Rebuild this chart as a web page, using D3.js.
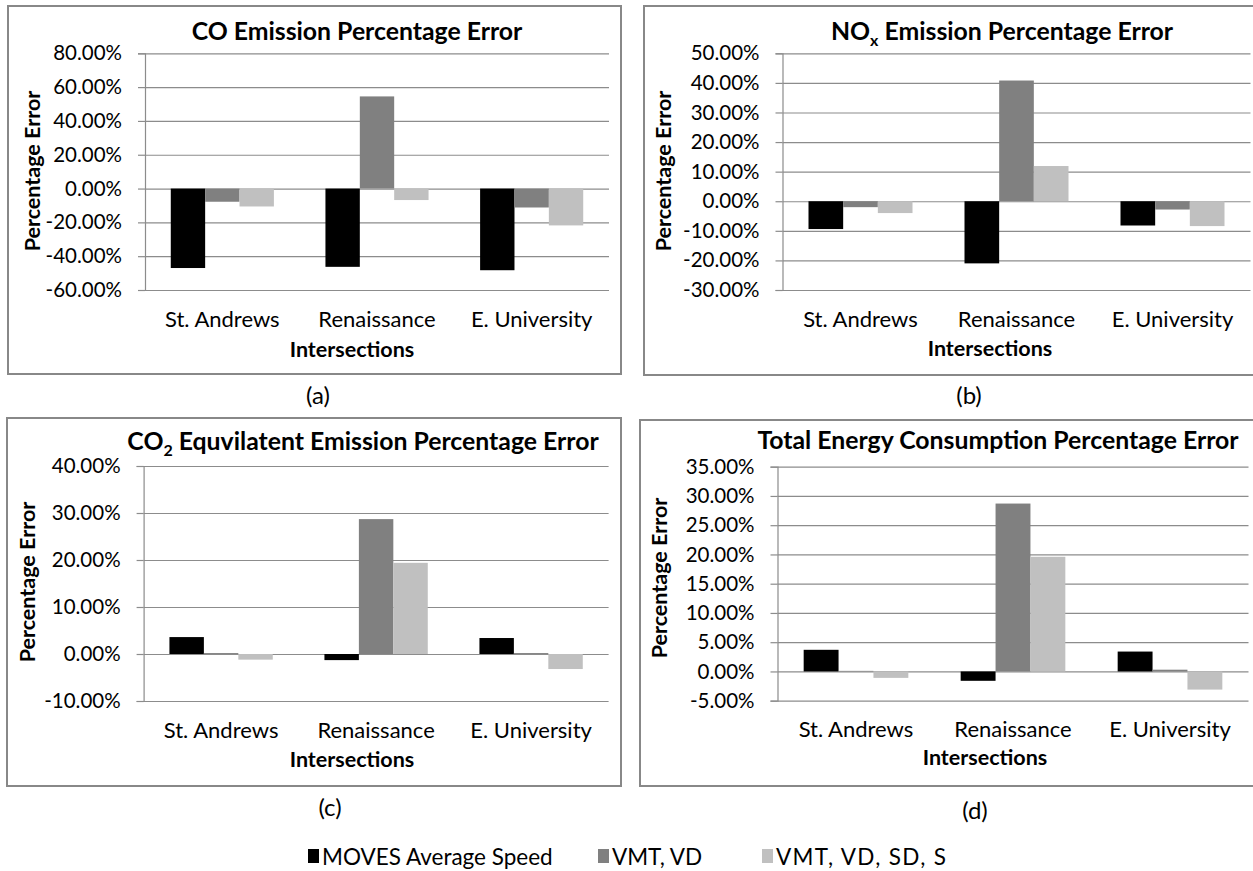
<!DOCTYPE html>
<html>
<head>
<meta charset="utf-8">
<script src="https://cdn.jsdelivr.net/npm/d3@7"></script>
<style>
  html, body { margin: 0; padding: 0; background: #fff; }
  svg { display: block; font-family: Lato, "Open Sans", sans-serif; }
</style>
</head>
<body>
<svg id="chart" width="1253" height="871"></svg>
<script>
// ---------------- DATA ----------------
const categories = ["St. Andrews", "Renaissance", "E. University"];
const seriesNames = ["MOVES Average Speed", "VMT, VD", "VMT, VD, SD, S"];

// (a) CO emission percentage error (%)
const coMoves   = [-47.0, -46.3, -48.3];
const coVmtVd   = [-7.8, 54.5, -11.2];
const coVmtFull = [-10.6, -6.8, -21.8];
const coTicks   = [-60, -40, -20, 0, 20, 40, 60, 80];

// (b) NOx emission percentage error (%)
const noxMoves   = [-9.4, -21.0, -8.2];
const noxVmtVd   = [-2.0, 40.8, -2.8];
const noxVmtFull = [-4.0, 11.9, -8.4];
const noxTicks   = [-30, -20, -10, 0, 10, 20, 30, 40, 50];

// (c) CO2 equivalent emission percentage error (%)
const co2Moves   = [3.6, -1.3, 3.4];
const co2VmtVd   = [0.2, 28.7, 0.2];
const co2VmtFull = [-1.2, 19.4, -3.2];
const co2Ticks   = [-10, 0, 10, 20, 30, 40];

// (d) Total energy consumption percentage error (%)
const enMoves   = [3.7, -1.6, 3.4];
const enVmtVd   = [0.1, 28.7, 0.3];
const enVmtFull = [-1.1, 19.6, -3.1];
const enTicks   = [-5, 0, 5, 10, 15, 20, 25, 30, 35];

const seriesColors = ["#000000", "#808080", "#c0c0c0"];
const yAxisTitle = "Percentage Error";
const xAxisTitle = "Intersections";

// ---------------- LAYOUT ----------------
const panels = [
  { title: [["CO Emission Percentage Error"]], sub: "(a)",
    series: [coMoves, coVmtVd, coVmtFull], ticks: coTicks,
    box: [8, 6, 621, 374], px: [145, 609], py: [53.3, 290],
    titleXY: [357, 40], catY: 327, xtXY: [352, 357], ytXY: [33, 171], subXY: [318, 404] },
  { title: [["NO"], ["x", "sub"], [" Emission Percentage Error"]], sub: "(b)",
    series: [noxMoves, noxVmtVd, noxVmtFull], ticks: noxTicks,
    box: [644, 6, 1262, 375], px: [782.5, 1250.5], py: [53.3, 290],
    titleXY: [1002, 40], catY: 327, xtXY: [990, 356], ytXY: [664, 171], subXY: [969, 404] },
  { title: [["CO"], ["2", "sub"], [" Equvilatent Emission Percentage Error"]], sub: "(c)",
    series: [co2Moves, co2VmtVd, co2VmtFull], ticks: co2Ticks,
    box: [7, 418, 621, 786], px: [143.6, 608.6], py: [466, 701],
    titleXY: [363, 450], catY: 738, xtXY: [352, 767], ytXY: [28, 582], subXY: [330, 816] },
  { title: [["Total Energy Consumption Percentage Error"]], sub: "(d)",
    series: [enMoves, enVmtVd, enVmtFull], ticks: enTicks,
    box: [640, 420, 1262, 786], px: [777.5, 1248.5], py: [466.7, 700.7],
    titleXY: [998, 449], catY: 737, xtXY: [985, 765], ytXY: [660, 578], subXY: [975, 819] }
];

const svg = d3.select("#chart");
svg.append("rect").attr("width", 1253).attr("height", 871).attr("fill", "#fff");

const gridColor = "#8c8c8c";
const textColor = "#000";

panels.forEach(p => {
  const g = svg.append("g");
  g.append("rect")
    .attr("x", p.box[0]).attr("y", p.box[1])
    .attr("width", p.box[2] - p.box[0]).attr("height", p.box[3] - p.box[1])
    .attr("fill", "none").attr("stroke", "#888").attr("stroke-width", 2);

  const y = d3.scaleLinear()
    .domain([d3.min(p.ticks), d3.max(p.ticks)])
    .range([p.py[1], p.py[0]]);
  const x = d3.scaleBand().domain(categories).range(p.px).padding(0);
  const bw = x.bandwidth();
  const inner = d3.scaleBand().domain(d3.range(seriesNames.length))
    .range([bw * 0.75 / 4.5, bw - bw * 0.75 / 4.5]).padding(0);

  const grid = g.append("g").attr("transform", `translate(${p.px[0]},0)`)
    .call(d3.axisLeft(y).tickValues(p.ticks).tickSize(-(p.px[1] - p.px[0])).tickFormat(""));
  grid.select(".domain").remove();
  grid.selectAll("line").attr("stroke", gridColor).attr("stroke-width", 1.2);

  p.series.forEach((vals, si) => {
    g.append("g").selectAll("rect").data(vals).join("rect")
      .attr("x", (d, i) => x(categories[i]) + inner(si))
      .attr("width", inner.bandwidth())
      .attr("y", d => y(Math.max(0, d)))
      .attr("height", d => Math.abs(y(d) - y(0)))
      .attr("fill", seriesColors[si]);
  });

  const ya = g.append("g").attr("transform", `translate(${p.px[0]},0)`)
    .call(d3.axisLeft(y).tickValues(p.ticks).tickSize(7).tickPadding(16)
      .tickFormat(d => d.toFixed(2) + "%"));
  ya.select(".domain").attr("stroke", gridColor).attr("stroke-width", 1.2);
  ya.selectAll("line").attr("stroke", gridColor).attr("stroke-width", 1.2);
  ya.selectAll("text").attr("font-size", 20.5).attr("fill", textColor)
    .attr("font-family", "Lato, sans-serif");

  g.append("g").selectAll("text").data(categories).join("text")
    .attr("x", d => x(d) + bw / 2).attr("y", p.catY)
    .attr("text-anchor", "middle").attr("font-size", 22).attr("fill", textColor)
    .text(d => d);

  const t = g.append("text").attr("x", p.titleXY[0]).attr("y", p.titleXY[1])
    .attr("text-anchor", "middle").attr("font-size", 24.8).attr("font-weight", "bold")
    .attr("fill", textColor);
  p.title.forEach(part => {
    const ts = t.append("tspan").text(part[0]);
    if (part[1] === "sub") {
      ts.attr("font-size", 16).attr("dy", 6);
    } else if (t.selectAll("tspan").size() > 1) {
      ts.attr("dy", -6);
    }
  });

  g.append("text").attr("x", p.xtXY[0]).attr("y", p.xtXY[1])
    .attr("text-anchor", "middle").attr("font-size", 21.5).attr("font-weight", "bold")
    .attr("fill", textColor).text(xAxisTitle);
  g.append("text")
    .attr("transform", `translate(${p.ytXY[0] + 7},${p.ytXY[1]}) rotate(-90)`)
    .attr("text-anchor", "middle").attr("font-size", 21.5).attr("font-weight", "bold")
    .attr("fill", textColor).text(yAxisTitle);

  svg.append("text").attr("x", p.subXY[0]).attr("y", p.subXY[1])
    .attr("text-anchor", "middle").attr("font-size", 24).attr("fill", textColor)
    .text(p.sub);
});

// legend
const legendX = [308, 598, 762];
const lg = svg.append("g");
seriesNames.forEach((name, i) => {
  lg.append("rect").attr("x", legendX[i]).attr("y", 849).attr("width", 11).attr("height", 14)
    .attr("fill", seriesColors[i]);
  const tx = lg.append("text").attr("x", legendX[i] + 14).attr("y", 865)
    .attr("font-size", 22.5).attr("fill", textColor)
    .text(name);
  if (i === 2) tx.attr("textLength", 170).attr("lengthAdjust", "spacing");
});
</script>
</body>
</html>
